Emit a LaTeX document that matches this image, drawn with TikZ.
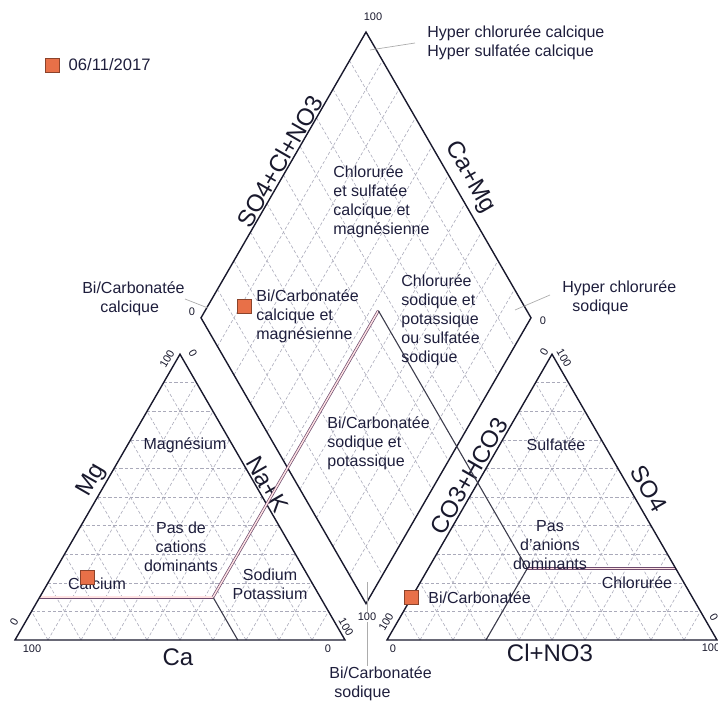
\documentclass[tikz,border=0pt]{standalone}
\usepackage{fontspec}
\setmainfont{Liberation Sans}
\usetikzlibrary{positioning}

\definecolor{ink}{RGB}{25,25,45}
\definecolor{zoneink}{RGB}{30,30,60}
\definecolor{gridgray}{RGB}{170,170,186}
\definecolor{samplefill}{RGB}{232,112,72}
\definecolor{mauve}{RGB}{110,75,110}

\tikzset{
  outline/.style={draw=ink, line width=0.7pt, line join=miter},
  gridline/.style={draw=gridgray, line width=0.3pt, dash pattern=on 1.6pt off 1.1pt},
  facies/.style={draw=ink!85, line width=0.55pt},
  faciesdbl/.style={draw=mauve, double=pink!45, double distance=0.7pt, line width=0.35pt},
  leader/.style={draw=gray!65, line width=0.35pt},
  ticklbl/.style={font=\fontsize{5.5}{6}\selectfont, text=ink, inner sep=0.5pt},
  axislbl/.style={font=\fontsize{12}{14}\selectfont, text=ink, inner sep=1pt},
  zonelbl/.style={font=\fontsize{8}{9.5}\selectfont, text=zoneink, inner sep=0pt},
  sampledot/.style={draw=samplefill!60!black, line width=0.3pt, fill=samplefill, minimum size=7pt, inner sep=0pt},
}

\begin{document}
\begin{tikzpicture}[x=0.5pt, y=0.5pt]
  \useasboundingbox (0,0) rectangle (718,702);

  % cation triangle, coordinates (Na+K, Mg)
  \begin{scope}[shift={(15,62)}, x={(165pt,0pt)}, y={(82.5pt,142.894pt)}]
    \foreach \i in {1,...,9} {
      \draw[gridline] (0,\i/10) -- ({1-\i/10},\i/10);
      \draw[gridline] (\i/10,0) -- (\i/10,{1-\i/10});
      \draw[gridline] (\i/10,0) -- (0,\i/10);
    }
    \coordinate (ca) at (0,0);
    \coordinate (nak) at (1,0);
    \coordinate (mg) at (0,1);
    \coordinate (P) at (0.525,0.15);
    \coordinate (Pl) at (0,0.15);
    \coordinate (Pb) at (0.675,0);
    \draw[facies] (P) -- (Pb);
    \draw[faciesdbl] (Pl) -- (P);
    \draw[outline] (ca) -- (nak) -- (mg) -- cycle;
    \node[axislbl, rotate=60, anchor=south] (lblmg) at (0,0.535) {Mg};
    \node[axislbl, rotate=-60, anchor=south] (lblnak) at (0.474,0.526) {Na+K};
  \end{scope}

  % anion triangle, coordinates (Cl+NO3, SO4)
  \begin{scope}[shift={(387,62)}, x={(165pt,0pt)}, y={(82.5pt,142.894pt)}]
    \foreach \i in {1,...,9} {
      \draw[gridline] (0,\i/10) -- ({1-\i/10},\i/10);
      \draw[gridline] (\i/10,0) -- (\i/10,{1-\i/10});
      \draw[gridline] (\i/10,0) -- (0,\i/10);
    }
    \coordinate (co) at (0,0);
    \coordinate (cl) at (1,0);
    \coordinate (so) at (0,1);
    \coordinate (Q) at (0.30,0.25);
    \coordinate (Qr) at (0.75,0.25);
    \coordinate (Qb) at (0.30,0);
    \draw[facies] (Q) -- (Qb);
    \draw[faciesdbl] (Q) -- (Qr);
    \draw[outline] (co) -- (cl) -- (so) -- cycle;
    \node[axislbl, rotate=60, anchor=south] (lblco) at (0,0.556) {CO3+HCO3};
    \node[axislbl, rotate=-60, anchor=south, inner sep=4pt] (lblso) at (0.5,0.5) {SO4};
  \end{scope}

  % diamond, coordinates (Na+K, SO4+Cl+NO3)
  \begin{scope}[shift={(201,384.16)}, x={(82.5pt,-142.894pt)}, y={(82.5pt,142.894pt)}]
    \foreach \i in {1,...,9} {
      \draw[gridline] (\i/10,0) -- (\i/10,1);
      \draw[gridline] (0,\i/10) -- (1,\i/10);
    }
    \coordinate (dl) at (0,0);
    \coordinate (db) at (1,0);
    \coordinate (dr) at (1,1);
    \coordinate (dt) at (0,1);
    \coordinate (V) at (0.525,0.55);
    \draw[outline] (dl) -- (db) -- (dr) -- (dt) -- cycle;
    \node[axislbl, rotate=60, anchor=south, inner sep=0.5pt] (lblsocl) at (0,0.53) {SO4+Cl+NO3};
    \node[axislbl, rotate=-60, anchor=south, inner sep=3pt] (lblcamg) at (0.54,1) {Ca+Mg};
  \end{scope}

  % facies boundaries running through the diamond
  \draw[faciesdbl] (P) -- (V);
  \draw[facies] (V) -- (Q);

  % axis labels under the triangles
  \node[axislbl] (lblca) at (178,45) {Ca};
  \node[axislbl] (lblcl) at (550,49) {Cl+NO3};

  % scale values
  \node[ticklbl] (tca100) at (32,53) {100};
  \node[ticklbl, rotate=60] (tmg0) at (14,80) {0};
  \node[ticklbl, rotate=60] (tmg100) at (167,343) {100};
  \node[ticklbl, rotate=-60] (tnak0) at (193,349) {0};
  \node[ticklbl, rotate=-60] (tnak100) at (346,75) {100};
  \node[ticklbl] (tca0) at (328,53) {0};
  \node[ticklbl, rotate=60] (tco100) at (386,80) {100};
  \node[ticklbl] (tcl0) at (393,53) {0};
  \node[ticklbl, rotate=60] (tco0) at (544,350) {0};
  \node[ticklbl, rotate=-60] (tso100) at (564,344) {100};
  \node[ticklbl, rotate=-60] (tso0) at (714,85) {0};
  \node[ticklbl] (tcl100) at (711,54) {100};
  \node[ticklbl] (tdt) at (373,685) {100};
  \node[ticklbl] (tdl) at (192,390) {0};
  \node[ticklbl] (tdr) at (543,381) {0};

  % corner facies with leaders
  \coordinate (cT) at (370,652);
  \coordinate (cL) at (208,394);
  \coordinate (cR) at (515,392);
  \coordinate (cB) at (367,120);
  \node[zonelbl, align=left, anchor=west] (hypcal) at (427,659) {Hyper chlorurée calcique\\Hyper sulfatée calcique};
  \node[zonelbl, align=left, anchor=west] (hypsod) at (562,404) {Hyper chlorurée\\\hspace*{5pt}sodique};
  \node[zonelbl, align=left, anchor=east] (bicalc) at (185,403) {Bi/Carbonatée\\\hspace*{9pt}calcique};
  \node[zonelbl, align=left, anchor=north west] (bisod) at (329,36) {Bi/Carbonatée\\\hspace*{2.5pt}sodique};
  \draw[leader] (cT) -- ([xshift=-6pt]hypcal.west);
  \draw[leader] (cR) -- ([xshift=-6pt, yshift=1.5pt]hypsod.west);
  \draw[leader] (bicalc.east) -- (cL);
  \draw[leader] (cB) -- (cB |- bisod.north);
  \node[ticklbl, fill=white] (tdb) at (367,85) {100};

  % facies of the cation triangle
  \node[zonelbl] (zmg) at (185,257) {Magnésium};
  \node[zonelbl, align=center] (zpasc) at (181,155) {Pas de\\cations\\dominants};
  \node[zonelbl] (zca) at (97,118) {Calcium};
  \node[zonelbl, align=center] (zna) at (270,118) {Sodium\\Potassium};

  % facies of the diamond
  \node[zonelbl, align=left, anchor=west] (zcsm) at (333,500) {Chlorurée\\et sulfatée\\calcique et\\magnésienne};
  \node[zonelbl, align=left, anchor=west] (zbcm) at (256,386) {Bi/Carbonatée\\calcique et\\magnésienne};
  \node[zonelbl, align=left, anchor=west] (zcsp) at (401,382) {Chlorurée\\sodique et\\potassique\\ou sulfatée\\sodique};
  \node[zonelbl, align=left, anchor=west] (zbsp) at (327,259) {Bi/Carbonatée\\sodique et\\potassique};

  % facies of the anion triangle
  \node[zonelbl] (zso) at (556,257) {Sulfatée};
  \node[zonelbl, align=center] (zpasa) at (550,157) {Pas\\d'anions\\dominants};
  \node[zonelbl] (zcl) at (637,119) {Chlorurée};
  \node[zonelbl, anchor=west] (zbic) at (428,104) {Bi/Carbonatée};

  % sample of 06/11/2017
  \begin{scope}[shift={(15,62)}, x={(165pt,0pt)}, y={(82.5pt,142.894pt)}]
    \node[sampledot] (scat) at (0.11,0.22) {};
  \end{scope}
  \begin{scope}[shift={(387,62)}, x={(165pt,0pt)}, y={(82.5pt,142.894pt)}]
    \node[sampledot] (san) at (0,0.15) {};
  \end{scope}
  \begin{scope}[shift={(201,384.16)}, x={(82.5pt,-142.894pt)}, y={(82.5pt,142.894pt)}]
    \node[sampledot] (sdia) at (0.11,0.15) {};
  \end{scope}

  % legend
  \node[sampledot] (legsq) at (52,637) {};
  \node[zonelbl, font=\fontsize{8.3}{10}\selectfont, right=4.5pt of legsq] (legtxt) {06/11/2017};
\end{tikzpicture}
\end{document}
